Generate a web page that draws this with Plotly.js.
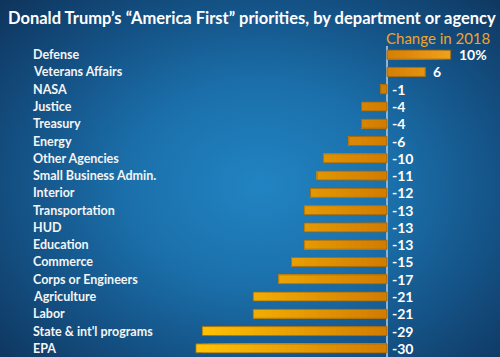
<!DOCTYPE html>
<html>
<head>
<meta charset="utf-8">
<script src="https://cdn.plot.ly/plotly-3.0.1.min.js"></script>
<style>
html,body{margin:0;padding:0;}
#chart{width:500px;height:357px;
background: radial-gradient(ellipse 75% 80% at 52% 52%, #2184c2 0%, #1b70ab 35%, #145184 65%, #0d2f55 100%);}
</style>
</head>
<body>
<div id="chart"></div>
<script>
const categories = ["Defense","Veterans Affairs","NASA","Justice","Treasury","Energy","Other Agencies","Small Business Admin.","Interior","Transportation","HUD","Education","Commerce","Corps or Engineers","Agriculture","Labor","State & int'l programs","EPA"];
const changes = [10,6,-1,-4,-4,-6,-10,-11,-12,-13,-13,-13,-15,-17,-21,-21,-29,-30];
const valueLabels = ["10%","6","-1","-4","-4","-6","-10","-11","-12","-13","-13","-13","-15","-17","-21","-21","-29","-30"];
const title = "Donald Trump’s “America First” priorities, by department or agency";
const subtitle = "Change in 2018";

function mix(a,b,t){
  const pa=[parseInt(a.slice(1,3),16),parseInt(a.slice(3,5),16),parseInt(a.slice(5,7),16)];
  const pb=[parseInt(b.slice(1,3),16),parseInt(b.slice(3,5),16),parseInt(b.slice(5,7),16)];
  return 'rgb('+pa.map((v,i)=>Math.round(v+(pb[i]-v)*t)).join(',')+')';
}

const traces = [];
const gap = 0.48;
// gradient layers for negative bars (yellow far from zero, orange near zero)
const negMin = Math.min(...changes);
for (let t = negMin; t < 0; t += 1) {
  const f = t / negMin;
  traces.push({type:'bar', orientation:'h', y:categories,
    x: changes.map(v => v < 0 ? Math.max(v, t) : 0),
    marker:{color: mix('#d07a02','#ffc205', f), line:{width:0}},
    hoverinfo:'skip', showlegend:false});
}
// gradient layers for positive bars
const posMax = Math.max(...changes);
for (let t = posMax; t > 0; t -= 1) {
  const f = t / posMax;
  traces.push({type:'bar', orientation:'h', y:categories,
    x: changes.map(v => v > 0 ? Math.min(v, t) : 0),
    marker:{color: mix('#d47c02','#eea01a', f), line:{width:0}},
    hoverinfo:'skip', showlegend:false});
}
// outline
traces.push({type:'bar', orientation:'h', y:categories, x:changes,
  marker:{color:'rgba(0,0,0,0)', line:{width:1, color:'rgba(150,100,20,0.8)'}},
  hoverinfo:'skip', showlegend:false});

const annotations = categories.map(c => ({
  xref:'paper', yref:'y', x:0.062, y:c, xanchor:'left', yanchor:'middle',
  text:c, showarrow:false,
  font:{family:'Lato', size:12.5, color:'#f4f4f4', weight:'bold'}
}));
categories.forEach((c,i) => annotations.push({
  xref:'x', yref:'y', x:Math.max(changes[i],0), y:c, xanchor:'left', yanchor:'middle',
  xshift: changes[i] > 0 ? 6 : 3, text:valueLabels[i], showarrow:false,
  font:{family:'Lato', size:14, color:'#ffffff', weight:'bold'}
}));
annotations.push({xref:'paper', yref:'paper', x:0.984, y:1.026, xanchor:'right', yanchor:'middle',
  text:subtitle, showarrow:false, font:{family:'Lato', size:15, color:'#f0a42a'}});

const layout = {
  width:500, height:357,
  paper_bgcolor:'rgba(0,0,0,0)', plot_bgcolor:'rgba(0,0,0,0)',
  margin:{l:0, r:0, t:46, b:0},
  barmode:'overlay', bargap:gap,
  title:{text:title, x:0.016, xanchor:'left', xref:'container', y:0.95, yanchor:'middle',
    font:{family:'Lato', size:16.5, color:'#ffffff', weight:'bold'}},
  xaxis:{range:[-60.75,17.74], showgrid:false, showticklabels:false, zeroline:true,
    zerolinecolor:'#8fb3d2', zerolinewidth:1.5, fixedrange:true},
  yaxis:{type:'category', range:[17.5,-0.5], showgrid:false, showticklabels:false,
    zeroline:false, fixedrange:true},
  annotations: annotations,
  showlegend:false
};
Plotly.newPlot('chart', traces, layout, {displayModeBar:false, staticPlot:true});
</script>
</body>
</html>
